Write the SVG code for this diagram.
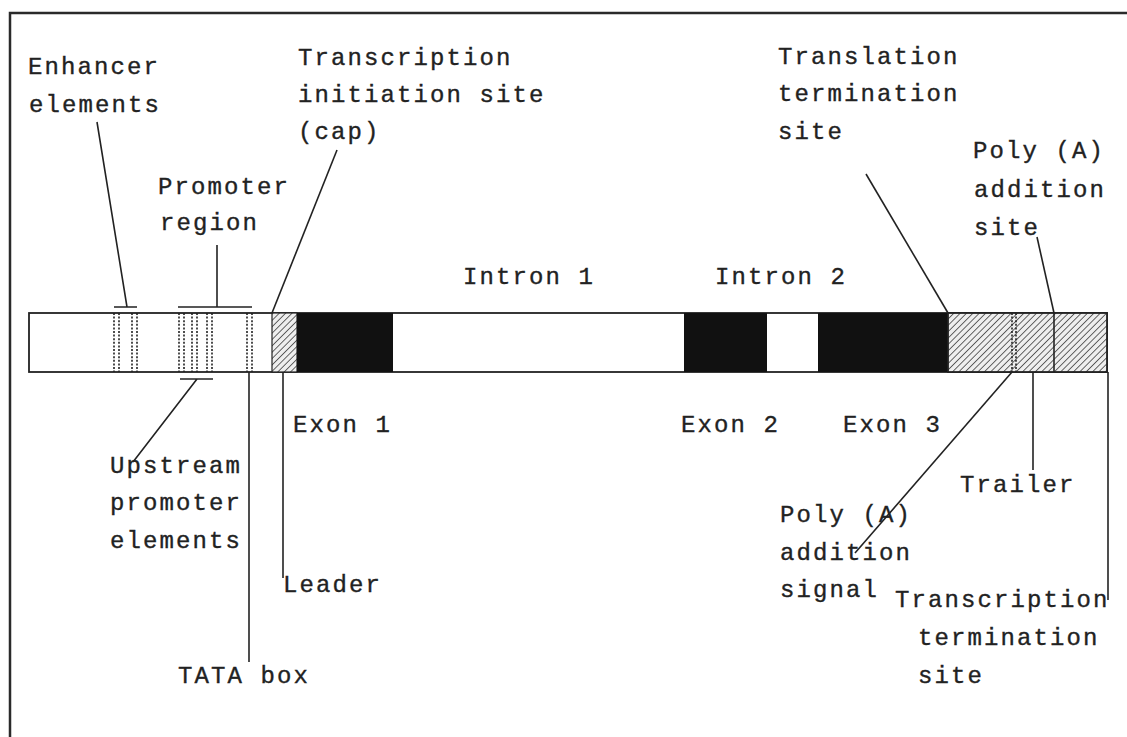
<svg xmlns="http://www.w3.org/2000/svg" width="1127" height="737" viewBox="0 0 1127 737">
  <defs>
    <pattern id="hatch" patternUnits="userSpaceOnUse" width="4.5" height="4.5" patternTransform="rotate(45)">
      <rect width="4.5" height="4.5" fill="#eee"/>
      <line x1="0" y1="0" x2="0" y2="4.5" stroke="#555" stroke-width="1.8"/>
    </pattern>
  </defs>
  <style>
    text { font-family: "Liberation Mono", "DejaVu Sans Mono", monospace; font-size: 24px; letter-spacing: 2.1px; fill: #222; stroke: #222; stroke-width: 0.35; }
    .ln { stroke: #222; stroke-width: 1.6; fill: none; }
    .dot { stroke: #222; stroke-width: 1.6; stroke-dasharray: 2 1.6; }
    .frame { stroke: #2a2a2a; stroke-width: 2.5; fill: none; }
  </style>
  <rect width="1127" height="737" fill="#fff"/>

  <!-- frame -->
  <path class="frame" d="M10,737 V13 H1127"/>

  <!-- gene bar -->
  <g id="gene">
    <rect x="29" y="313" width="1078" height="59" fill="#fff" stroke="#222" stroke-width="1.8"/>
    <rect id="leader" x="272" y="313" width="25" height="59" fill="url(#hatch)" stroke="#222" stroke-width="1.2"/>
    <rect id="exon1" x="297" y="313" width="96" height="59" fill="#111"/>
    <rect id="exon2" x="684" y="313" width="83" height="59" fill="#111"/>
    <rect id="exon3" x="818" y="313" width="130" height="59" fill="#111"/>
    <rect id="trail" x="948" y="313" width="159" height="59" fill="url(#hatch)" stroke="#222" stroke-width="1.8"/>
    <!-- enhancer elements -->
    <line class="dot" x1="114" y1="313" x2="114" y2="372"/>
    <line class="dot" x1="119" y1="313" x2="119" y2="372"/>
    <line class="dot" x1="132" y1="313" x2="132" y2="372"/>
    <line class="dot" x1="137" y1="313" x2="137" y2="372"/>
    <!-- upstream promoter elements -->
    <line class="dot" x1="179" y1="313" x2="179" y2="372"/>
    <line class="dot" x1="184" y1="313" x2="184" y2="372"/>
    <line class="dot" x1="192" y1="313" x2="192" y2="372"/>
    <line class="dot" x1="197" y1="313" x2="197" y2="372"/>
    <line class="dot" x1="207" y1="313" x2="207" y2="372"/>
    <line class="dot" x1="212" y1="313" x2="212" y2="372"/>
    <!-- TATA -->
    <line class="dot" x1="247" y1="313" x2="247" y2="372"/>
    <line class="dot" x1="252" y1="313" x2="252" y2="372"/>
    <!-- poly(A) signal -->
    <line class="dot" x1="1012" y1="313" x2="1012" y2="372"/>
    <line class="dot" x1="1016" y1="313" x2="1016" y2="372"/>
    <!-- poly(A) site -->
    <line class="ln" x1="1054" y1="313" x2="1054" y2="372"/>
  </g>

  <!-- connectors -->
  <g id="connectors">
    <path class="ln" d="M114,307 H137 M127,307 L97,122"/>
    <path class="ln" d="M178,307 H252 M217,307 V245"/>
    <path class="ln" d="M180,379 H213 M197,379 L133,462"/>
    <path class="ln" d="M249,372 V662"/>
    <path class="ln" d="M272,313 L337,150"/>
    <path class="ln" d="M283,372 V578"/>
    <path class="ln" d="M866,174 L948,313"/>
    <path class="ln" d="M1037,237 L1054,313"/>
    <path class="ln" d="M1012,372 L855,553"/>
    <path class="ln" d="M1033,372 V470"/>
    <path class="ln" d="M1108,372 V600"/>
  </g>

  <!-- labels -->
  <g id="labels">
    <g id="enhancer"><text x="28" y="74">Enhancer</text><text x="29" y="112">elements</text></g>
    <g id="tx-init"><text x="298" y="65">Transcription</text><text x="298" y="102">initiation site</text><text x="298" y="139">(cap)</text></g>
    <g id="promoter"><text x="158" y="194">Promoter</text><text x="160" y="230">region</text></g>
    <g id="tl-term"><text x="778" y="64">Translation</text><text x="778" y="101">termination</text><text x="778" y="139">site</text></g>
    <g id="polya-site"><text x="973" y="158">Poly (A)</text><text x="974" y="197">addition</text><text x="974" y="235">site</text></g>
    <g id="intron1"><text x="463" y="284">Intron 1</text></g>
    <g id="intron2"><text x="715" y="284">Intron 2</text></g>
    <g id="exon1-l"><text x="293" y="432">Exon 1</text></g>
    <g id="exon2-l"><text x="681" y="432">Exon 2</text></g>
    <g id="exon3-l"><text x="843" y="432">Exon 3</text></g>
    <g id="upstream"><text x="110" y="473">Upstream</text><text x="110" y="510">promoter</text><text x="110" y="548">elements</text></g>
    <g id="leader-l"><text x="283" y="592">Leader</text></g>
    <g id="tata"><text x="178" y="683">TATA box</text></g>
    <g id="trailer"><text x="960" y="492">Trailer</text></g>
    <g id="polya-signal"><text x="780" y="522">Poly (A)</text><text x="780" y="560">addition</text><text x="780" y="597">signal</text></g>
    <g id="tx-term"><text x="895" y="607">Transcription</text><text x="918" y="645">termination</text><text x="918" y="683">site</text></g>
  </g>
</svg>
